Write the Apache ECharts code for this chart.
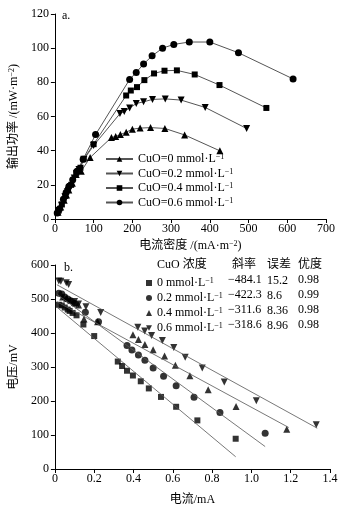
<!DOCTYPE html>
<html>
<head>
<meta charset="utf-8">
<script src="https://cdn.jsdelivr.net/npm/echarts@6/dist/echarts.min.js"></script>
<style>
  html, body { margin: 0; padding: 0; background: #fff; }
  #chart { width: 355px; height: 507px; }
</style>
</head>
<body>
<div id="chart"></div>
<script>
// panel a: power density vs current density
const a0X = [8, 15, 24, 30, 36, 45, 55, 68, 91, 146, 157, 169, 184, 200, 220, 247, 284, 335, 426]
const a0Y = [4, 7, 11, 14, 17, 21, 26, 28, 36, 47.7, 48.3, 49.4, 50.8, 52.6, 53.2, 53.5, 53, 49.2, 39.9]
const a1X = [9, 17, 26, 32, 40, 50, 62, 75, 100, 168, 179, 193, 210, 229, 252, 285, 326, 388, 495]
const a1Y = [5, 8, 13, 16, 19, 24, 29, 35, 43, 61.7, 62.9, 65, 67.6, 68.6, 70, 70.3, 69.6, 65.3, 53]
const a2X = [10, 18, 27, 34, 42, 55, 66, 74, 100, 184, 196, 212, 231, 256, 283, 315, 361, 425, 546]
const a2Y = [5, 8.5, 13.5, 17, 20, 27, 30, 35, 43.8, 72.3, 75.2, 77.2, 81.3, 85.2, 86.8, 87, 84.6, 78.4, 65]
const a3X = [6, 12, 22, 29, 36, 46, 57, 73, 105, 193, 210, 229, 251, 278, 307, 347, 400, 474, 615]
const a3Y = [3.5, 6, 11.5, 15.5, 19, 23, 28, 35, 49.4, 81.7, 85.8, 90.7, 95.5, 100, 102.2, 103.6, 103.6, 97.3, 82]

// panel b: voltage vs current
const b0X = [0.02, 0.035, 0.05, 0.065, 0.075, 0.09, 0.11, 0.145, 0.2, 0.32, 0.342, 0.367, 0.397, 0.437, 0.478, 0.54, 0.617, 0.725, 0.92]
const b0Y = [483, 481, 475, 469, 465, 459, 452, 425, 391, 316, 303, 289, 275, 258, 237, 212, 183, 143, 89]
const b1X = [0.02, 0.035, 0.05, 0.065, 0.08, 0.1, 0.155, 0.222, 0.367, 0.392, 0.425, 0.458, 0.5, 0.553, 0.617, 0.708, 0.84, 1.07]
const b1Y = [517, 515, 506, 500, 495, 487, 461, 433, 363, 350, 335, 320, 297, 273, 245, 211, 166, 105]
const b2X = [0.04, 0.06, 0.08, 0.1, 0.12, 0.148, 0.217, 0.397, 0.425, 0.458, 0.5, 0.558, 0.613, 0.687, 0.78, 0.922, 1.18]
const b2Y = [506, 502, 497, 490, 482, 441, 433, 395, 381, 366, 351, 332, 305, 274, 233, 184, 117]
const b3X = [0.02, 0.03, 0.058, 0.07, 0.1, 0.12, 0.158, 0.233, 0.422, 0.457, 0.492, 0.547, 0.605, 0.663, 0.75, 0.862, 1.025, 1.33]
const b3Y = [553, 552, 548, 543, 493, 485, 477, 460, 417, 406, 393, 378, 357, 329, 297, 256, 201, 130]

// fitted lines, endpoints
const fit0 = [[0.01, 476], [0.92, 36]]
const fit1 = [[0.01, 514], [1.07, 66]]
const fit2 = [[0.01, 492], [1.19, 122]]
const fit3 = [[0.01, 542], [1.335, 120]]

const conc = ['0', '0.2', '0.4', '0.6']
const slopes = ['\u2212484.1', '\u2212422.3', '\u2212311.6', '\u2212318.6']
const errors = ['15.2', '8.6', '8.36', '8.96']
const goodness = ['0.98', '0.99', '0.98', '0.98']
const tableHead = ['CuO 浓度', '斜率', '误差', '优度']

const FONT = "'Liberation Serif', 'Noto Sans CJK SC', serif"
const DOWN = 'path://M0,0L10,0L5,9Z'
const symbols = ['triangle', DOWN, 'rect', 'circle']
const rich = {
  sup: { fontSize: 8, fontFamily: FONT, verticalAlign: 'top', color: '#000' }
}

const zip = (xs, ys) => xs.map((x, i) => [x, ys[i]])
const aSets = [zip(a0X, a0Y), zip(a1X, a1Y), zip(a2X, a2Y), zip(a3X, a3Y)]
const bSets = [zip(b0X, b0Y), zip(b1X, b1Y), zip(b2X, b2Y), zip(b3X, b3Y)]
const fits = [fit0, fit1, fit2, fit3]

const axisBase = {
  axisLine: { lineStyle: { color: '#000', width: 1 } },
  axisTick: { inside: false, length: 4, lineStyle: { color: '#000' } },
  splitLine: { show: false },
  axisLabel: { color: '#000', fontSize: 12, fontFamily: FONT },
  nameTextStyle: { color: '#000', fontSize: 12, fontFamily: FONT, rich }
}

const series = []
aSets.forEach((d, i) => {
  series.push({
    name: 'A' + i, type: 'line', xAxisIndex: 0, yAxisIndex: 0,
    data: d, symbol: symbols[i], symbolSize: i === 2 ? 6 : 7,
    lineStyle: { color: '#555', width: 1 },
    itemStyle: { color: '#000' }
  })
})
bSets.forEach((d, i) => {
  series.push({
    name: 'B' + i, type: 'scatter', xAxisIndex: 1, yAxisIndex: 1,
    data: d, symbol: symbols[[2, 3, 0, 1][i]], symbolSize: i === 0 ? 6 : 7,
    itemStyle: { color: '#000' }
  })
})
fits.forEach((d, i) => {
  series.push({
    name: 'F' + i, type: 'line', xAxisIndex: 1, yAxisIndex: 1,
    data: d, symbol: 'none', silent: true,
    lineStyle: { color: '#555', width: 0.8 }
  })
})

const tableText = []
const colX = [157, 232, 267, 298]
tableHead.forEach((t, c) => tableText.push({ text: t, x: colX[c], y: 265 }))
for (let r = 0; r < 4; r++) {
  const y = 280 + r * 15
  tableText.push({ text: slopes[r], x: 228, y })
  tableText.push({ text: errors[r], x: 267, y: y + 1 })
  tableText.push({ text: goodness[r], x: 298, y })
}

const chart = echarts.init(document.getElementById('chart'), null, { renderer: 'canvas' })
chart.setOption({
  animation: false,
  backgroundColor: '#fff',
  grid: [
    { left: 50, top: 14, width: 276, height: 205 },
    { left: 50, top: 265, width: 280, height: 204.5 }
  ],
  xAxis: [
    {
      ...axisBase, gridIndex: 0, type: 'value', min: 0, max: 700, interval: 100,
      name: '电流密度 /(mA·m{sup|\u22122})', nameLocation: 'middle', nameGap: 21,
      axisLabel: { ...axisBase.axisLabel, margin: 4 }
    },
    {
      ...axisBase, gridIndex: 1, type: 'value', min: 0, max: 1.4, interval: 0.2,
      name: '电流/mA', nameLocation: 'middle', nameGap: 25,
      axisLabel: { ...axisBase.axisLabel, margin: 4, formatter: v => v === 0 ? '0' : v.toFixed(1) }
    }
  ],
  yAxis: [
    {
      ...axisBase, gridIndex: 0, type: 'value', min: 0, max: 120, interval: 20,
      name: '输出功率 /(mW·m{sup|\u22122})', nameLocation: 'middle', nameGap: 28,
      axisLabel: { ...axisBase.axisLabel, margin: 6 }
    },
    {
      ...axisBase, gridIndex: 1, type: 'value', min: 0, max: 600, interval: 100,
      name: '电压/mV', nameLocation: 'middle', nameGap: 28,
      axisLabel: { ...axisBase.axisLabel, margin: 6 }
    }
  ],
  legend: [
    {
      orient: 'vertical', left: 100, top: 148,
      itemWidth: 27, itemHeight: 7, itemGap: 2.5, itemStyle: { color: '#000' },
      data: ['A0', 'A1', 'A2', 'A3'],
      formatter: n => 'CuO=' + conc[+n[1]] + ' mmol·L{sup|\u22121}',
      textStyle: { color: '#000', fontSize: 12, fontFamily: FONT, lineHeight: 12, rich }
    },
    {
      orient: 'vertical', left: 141, top: 272,
      itemWidth: 6, itemHeight: 6, itemGap: 3,
      data: ['B0', 'B1', 'B2', 'B3'],
      formatter: n => conc[+n[1]] + ' mmol·L{sup|\u22121}',
      textStyle: { color: '#000', fontSize: 12, fontFamily: FONT, lineHeight: 12, rich }
    }
  ],
  graphic: [
    { type: 'text', x: 62, y: 16, style: { text: 'a.', fontSize: 12, fontFamily: FONT, fill: '#000', verticalAlign: 'middle' } },
    { type: 'text', x: 64, y: 268, style: { text: 'b.', fontSize: 12, fontFamily: FONT, fill: '#000', verticalAlign: 'middle' } },
    ...tableText.map(t => ({
      type: 'text', x: t.x, y: t.y,
      style: { text: t.text, fontSize: 12, fontFamily: FONT, fill: '#000', verticalAlign: 'middle' }
    }))
  ],
  series
})
</script>
</body>
</html>
